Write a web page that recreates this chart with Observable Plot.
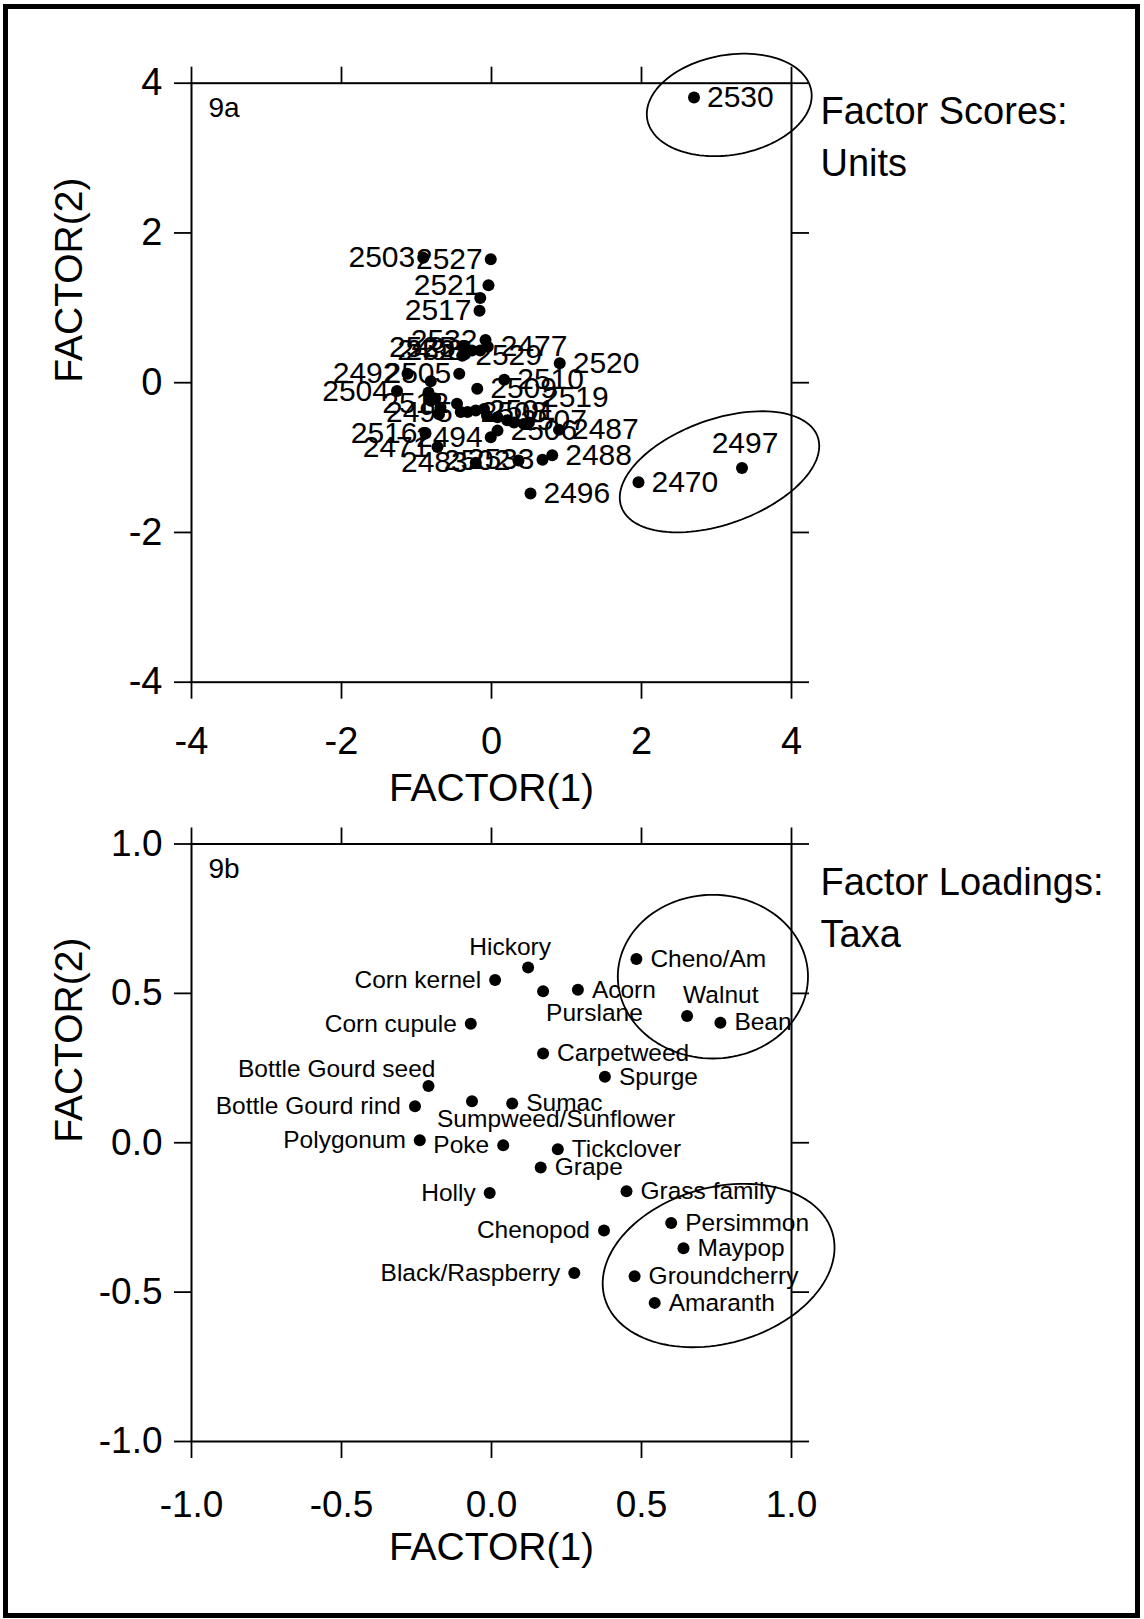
<!DOCTYPE html>
<html><head><meta charset="utf-8">
<script src="https://cdn.jsdelivr.net/npm/d3@7"></script>
<script src="https://cdn.jsdelivr.net/npm/@observablehq/plot@0.6"></script>
<style>
html,body{margin:0;padding:0;background:#fff;}
#page{position:relative;width:1144px;height:1619px;overflow:hidden;background:#fff;font-family:"Liberation Sans",Arial,sans-serif;}
#border{position:absolute;left:3px;top:4px;width:1137px;height:1614px;box-sizing:border-box;border:5px solid #000;pointer-events:none;}
#pa{position:absolute;left:0;top:0;}
#pb{position:absolute;left:0;top:800px;}
</style></head>
<body><div id="page"><div id="pa"></div><div id="pb"></div><div id="border"></div></div>
<script>
// ---------- Panel 9a: factor scores of units ----------
const unitIds = ["2530","2503","2527","2521","","2517","2532","2525","2498","2523","2477","2529","2520","2492","2505","2510","2504","2509","","","","","","","2512","2495","2508","2501","","","","2507","","","2519","2494","2506","2487","2516","2471","2483","2502","2533","2488","2496","2470","2497"];
const unitF1 = [2.70,-0.91,-0.01,-0.04,-0.15,-0.16,-0.08,-0.37,-0.26,-0.15,-0.05,-0.39,0.91,-1.12,-0.43,0.17,-1.26,-0.19,-0.81,-0.84,-0.75,-0.81,-0.68,-0.70,-0.46,-0.41,-0.32,-0.21,-0.10,-0.06,0.08,0.21,0.30,0.43,0.50,-0.01,0.08,0.90,-0.88,-0.72,-0.21,0.36,0.68,0.81,0.52,1.96,3.34];
const unitF2 = [3.81,1.67,1.65,1.30,1.13,0.96,0.57,0.47,0.43,0.43,0.48,0.36,0.26,0.12,0.12,0.04,-0.11,-0.08,0.02,-0.13,-0.21,-0.24,-0.33,-0.42,-0.28,-0.39,-0.39,-0.37,-0.35,-0.44,-0.46,-0.50,-0.53,-0.55,-0.53,-0.73,-0.64,-0.63,-0.68,-0.86,-1.07,-1.04,-1.03,-0.97,-1.48,-1.33,-1.14];
// label placement code per unit (R right, L left, T above, UR upper right, N none)
const unitLabelPlace = ["R","L","L","L","N","L","L","L","L","L","R","R","R","L","L","R","L","R","N","N","N","N","N","N","L","L","R","R","N","N","N","R","N","N","UR","L","R","R","L","L","L","L","L","R","R","R","T"];
const unitTicks = [-4,-2,0,2,4];
// group ellipses (center, semi-axes, rotation in degrees)
const unitEllipseCx = [3.17, 3.04];
const unitEllipseCy = [3.71, -1.19];
const unitEllipseA = [1.11, 1.39];
const unitEllipseB = [0.667, 0.70];
const unitEllipseAngle = [10, 19.7];

// ---------- Panel 9b: factor loadings of taxa ----------
const taxa = ["Hickory","Corn kernel","Purslane","Acorn","Cheno/Am","Walnut","Bean","Corn cupule","Carpetweed","Spurge","Bottle Gourd seed","Bottle Gourd rind","Sumpweed/Sunflower","Sumac","Polygonum","Poke","Tickclover","Grape","Holly","Grass family","Chenopod","Persimmon","Maypop","Black/Raspberry","Groundcherry","Amaranth"];
const taxaF1 = [0.122,0.012,0.172,0.288,0.483,0.652,0.763,-0.069,0.172,0.378,-0.210,-0.255,-0.065,0.069,-0.239,0.039,0.221,0.164,-0.006,0.450,0.375,0.599,0.640,0.276,0.477,0.544];
const taxaF2 = [0.587,0.545,0.507,0.512,0.615,0.424,0.402,0.398,0.299,0.221,0.190,0.122,0.139,0.131,0.008,-0.008,-0.022,-0.083,-0.168,-0.162,-0.294,-0.269,-0.353,-0.436,-0.447,-0.536];
const taxaLabelPlace = ["TL","L","B","R","R","UR","R","L","R","R","UL","L","BR","R","L","L","R","R","L","R","L","R","R","L","R","R"];
const taxaTicks = [-1,-0.5,0,0.5,1];
const taxaEllipseCx = [0.738, 0.757];
const taxaEllipseCy = [0.556, -0.411];
const taxaEllipseA = [0.317, 0.395];
const taxaEllipseB = [0.274, 0.261];
const taxaEllipseAngle = [0, 16];

// ---------- helpers ----------
const FONT = "'Liberation Sans', Arial, Helvetica, sans-serif";
function ellipses(cx, cy, a, b, ang) {
  const out = [];
  cx.forEach((c, k) => {
    const th = ang[k] * Math.PI / 180;
    d3.range(0, 361, 3).forEach(t => {
      const u = t * Math.PI / 180;
      out.push({k,
        x: c + a[k] * Math.cos(th) * Math.cos(u) - b[k] * Math.sin(th) * Math.sin(u),
        y: cy[k] + a[k] * Math.sin(th) * Math.cos(u) + b[k] * Math.cos(th) * Math.sin(u)});
    });
  });
  return out;
}
function labelMarks(data, placements, fontSize) {
  return Object.entries(placements).map(([code, o]) =>
    Plot.text(data.filter(d => d.place === code), {x: "f1", y: "f2", text: "label", fill: "#000",
      fontSize, textAnchor: o.anchor, lineAnchor: "middle", dx: o.dx, dy: o.dy}));
}
function frameAxes(ticks, fmt, fs, padX) {
  return [
    Plot.frame({stroke: "#000", strokeWidth: 2}),
    Plot.axisX({anchor: "bottom", ticks, tickSize: 17, tickPadding: padX, tickFormat: fmt, fontSize: fs, label: null, strokeWidth: 1.8}),
    Plot.axisX({anchor: "top", ticks, tickSize: 17, tickFormat: () => "", label: null, strokeWidth: 1.8}),
    Plot.axisY({anchor: "left", ticks, tickSize: 17, tickPadding: 12, tickFormat: fmt, fontSize: fs, label: null, strokeWidth: 1.8}),
    Plot.axisY({anchor: "right", ticks, tickSize: 17, tickFormat: () => "", label: null, strokeWidth: 1.8})
  ];
}
function titles(panel, side, sideDy) {
  return [
    Plot.text(["FACTOR(1)"], {frameAnchor: "bottom", lineAnchor: "middle", dy: 106, text: d => d, fontSize: 39}),
    Plot.text(["FACTOR(2)"], {frameAnchor: "left", lineAnchor: "middle", dx: -122, rotate: -90, text: d => d, fontSize: 39}),
    Plot.text([panel], {frameAnchor: "top-left", textAnchor: "start", lineAnchor: "top", dx: 17, dy: 14, text: d => d, fontSize: 28}),
    Plot.text([side], {frameAnchor: "top-right", textAnchor: "start", lineAnchor: "top", dx: 29, dy: sideDy, lineHeight: 1.37, text: d => d, fontSize: 38})
  ];
}

// ---------- Panel a ----------
const units = unitIds.map((id, i) => ({label: id, f1: unitF1[i], f2: unitF2[i], place: unitLabelPlace[i]}));
const unitPlace = {
  R: {anchor: "start", dx: 13, dy: 0},
  L: {anchor: "end", dx: -8, dy: 0},
  T: {anchor: "middle", dx: 3, dy: -25},
  UR: {anchor: "start", dx: 13, dy: -25}
};
const plotA = Plot.plot({
  width: 1144, height: 800,
  marginLeft: 191, marginRight: 353, marginTop: 82.7, marginBottom: 118.3,
  style: {fontFamily: FONT, fontSize: "38px", background: "transparent", overflow: "visible", color: "#000"},
  x: {domain: [-4, 4]},
  y: {domain: [-4, 4]},
  marks: [
    ...frameAxes(unitTicks, d => String(d), 38, 28),
    Plot.line(ellipses(unitEllipseCx, unitEllipseCy, unitEllipseA, unitEllipseB, unitEllipseAngle), {x: "x", y: "y", z: "k", stroke: "#000", strokeWidth: 1.8}),
    Plot.dot(units, {x: "f1", y: "f2", r: 6, fill: "#000", stroke: null}),
    ...labelMarks(units, unitPlace, 30),
    ...titles("9a", "Factor Scores:\nUnits", 4)
  ]
});
document.getElementById("pa").appendChild(plotA);

// ---------- Panel b ----------
const loadings = taxa.map((t, i) => ({label: t, f1: taxaF1[i], f2: taxaF2[i], place: taxaLabelPlace[i]}));
const taxaPlace = {
  R: {anchor: "start", dx: 14, dy: 0},
  L: {anchor: "end", dx: -14, dy: 0},
  TL: {anchor: "middle", dx: -18, dy: -20},
  B: {anchor: "start", dx: 3, dy: 22},
  UR: {anchor: "start", dx: -4, dy: -21},
  UL: {anchor: "end", dx: 7, dy: -17},
  BR: {anchor: "start", dx: -35, dy: 18}
};
const plotB = Plot.plot({
  width: 1144, height: 819,
  marginLeft: 191, marginRight: 353, marginTop: 43.5, marginBottom: 178,
  style: {fontFamily: FONT, fontSize: "37px", background: "transparent", overflow: "visible", color: "#000"},
  x: {domain: [-1, 1]},
  y: {domain: [-1, 1]},
  marks: [
    ...frameAxes(taxaTicks, d => d.toFixed(1), 37, 32),
    Plot.line(ellipses(taxaEllipseCx, taxaEllipseCy, taxaEllipseA, taxaEllipseB, taxaEllipseAngle), {x: "x", y: "y", z: "k", stroke: "#000", strokeWidth: 1.8}),
    Plot.dot(loadings, {x: "f1", y: "f2", r: 6, fill: "#000", stroke: null}),
    ...labelMarks(loadings, taxaPlace, 24.5),
    ...titles("9b", "Factor Loadings:\nTaxa", 14)
  ]
});
document.getElementById("pb").appendChild(plotB);
</script>
</body></html>
